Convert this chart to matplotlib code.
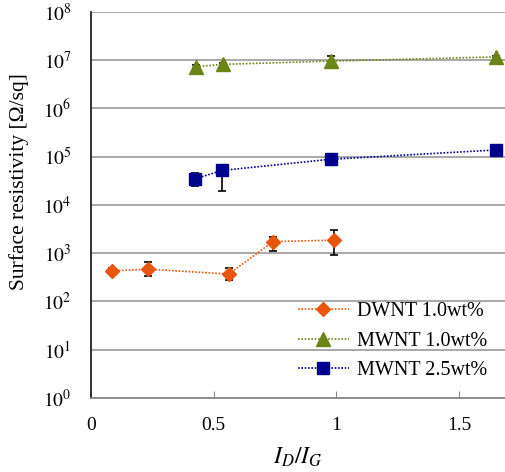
import numpy as np
import matplotlib
matplotlib.use("Agg")
import matplotlib.pyplot as plt

plt.rcParams['font.family'] = ['Liberation Serif', 'DejaVu Serif']
plt.rcParams['mathtext.fontset'] = 'stix'

# ================================================================================
# data
dwnt_x = [0.086, 0.231, 0.562, 0.742, 0.99]
dwnt_y = [430, 465, 370, 1740, 1860]
dwnt_err_lo = [60, 130, 90, 640, 940]
dwnt_err_hi = [60, 180, 120, 450, 1180]

mw10_x = [0.428, 0.537, 0.98, 1.65]
mw10_y = [7.4e6, 8.2e6, 9.6e6, 1.17e7]
mw10_err_lo = [4e5, 3e5, 6e5, 5e5]
mw10_err_hi = [6e5, 5e5, 2.5e6, 8e5]

mw25_x = [0.426, 0.535, 0.977, 1.65]
mw25_y = [35000, 52000, 88500, 138000]
mw25_err_lo = [10000, 33000, 8000, 8000]
mw25_err_hi = [11000, 8000, 20000, 10000]

labels = ["DWNT 1.0wt%", "MWNT 1.0wt%", "MWNT 2.5wt%"]
yticks = [10.0**k for k in range(0, 9)]
xticks = [0, 0.5, 1, 1.5]

# ================================================================================
fig = plt.figure(figsize=(5.05, 4.72), dpi=100)
ax = fig.add_axes([0.180, 0.157, 0.820, 0.8176])

series = [
    (dwnt_x, dwnt_y, dwnt_err_lo, dwnt_err_hi, "#E8560E", "D", 7.3),
    (mw10_x, mw10_y, mw10_err_lo, mw10_err_hi, "#6B8418", "^", 10.5),
    (mw25_x, mw25_y, mw25_err_lo, mw25_err_hi, "#00008F", "s", 8.5),
]
for (x, y, lo, hi, c, m, ms), lab in zip(series, labels):
    ax.errorbar(x, y, yerr=[lo, hi], fmt="none", ecolor="black",
                elinewidth=1.2, capsize=3, capthick=1.2, zorder=3)
    ax.plot(x, y, linestyle=(0, (1, 1)), linewidth=1.2, color=c,
            marker=m, markersize=ms, markeredgecolor=c, label=lab, zorder=4)

ax.set_yscale("log")
ax.set_ylim(1, 1e8)
ax.set_xlim(0, 1.687)
ax.set_yticks(yticks)
ax.set_yticklabels([r"$10^{%d}$" % k for k in range(0, 9)])
ax.yaxis.set_minor_locator(matplotlib.ticker.NullLocator())
ax.set_xticks(xticks)
ax.set_xticklabels(["0", "0.5", "1", "1.5"])

ax.grid(axis="y", color="#999999", linewidth=1.2)
ax.set_axisbelow(True)
ax.tick_params(axis="y", length=0, pad=14, labelsize=14)
ax.tick_params(axis="x", direction="in", length=5, color="#888888",
               pad=14, labelsize=14)

for s in ["top", "right"]:
    ax.spines[s].set_visible(False)
ax.spines["left"].set_color("#222222")
ax.spines["left"].set_linewidth(1.3)
ax.spines["bottom"].set_color("#888888")
ax.spines["bottom"].set_linewidth(1.3)

ax.set_ylabel("Surface resistivity [Ω/sq]", fontsize=15.5)
ax.yaxis.set_label_coords(-0.15, 0.56)
ax.set_xlabel(r"$I_D/I_G$", fontsize=17)
ax.xaxis.set_label_coords(0.5, -0.125)

ax.legend(loc="lower right", bbox_to_anchor=(1.0, 0.0), frameon=False,
          fontsize=14.5, handlelength=2.5, handletextpad=0.4,
          labelspacing=0.5)

fig.savefig("out.png", dpi=100)
